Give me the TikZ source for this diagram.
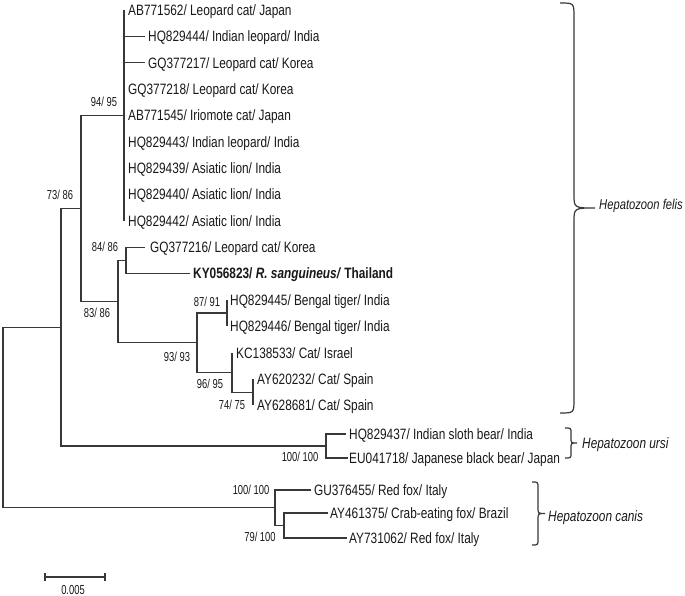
\documentclass[tikz,border=0pt]{standalone}
\usepackage{fontspec}
\setmainfont{Liberation Sans}[FakeStretch=0.79]
\newfontfamily\bsfont{Liberation Sans}[FakeStretch=0.72]
\newcommand\cladebrace[6]{% #1 tip x, #2 top, #3 bottom, #4 spine offset, #5 point offset, #6 radius
  \pgfmathsetmacro\cbmid{(#2+#3)/2}%
  \draw[br] (#1,#2) .. controls ({#1+#4},#2) .. ({#1+#4},{#2+#6})
    -- ({#1+#4},{\cbmid-#6}) .. controls ({#1+#4},\cbmid) .. ({#1+#5},\cbmid)
    .. controls ({#1+#4},\cbmid) .. ({#1+#4},{\cbmid+#6})
    -- ({#1+#4},{#3-#6}) .. controls ({#1+#4},#3) .. (#1,#3);
}
\tikzset{
  br/.style={line width=1.2pt, draw=black!78},
  leaf/.style={anchor=base west, inner sep=0pt, text=black!90, font=\fontsize{15}{17}\selectfont},
  bs/.style={anchor=base, inner sep=0pt, text=black!90, font=\bsfont\fontsize{13}{15}\selectfont},
  cladename/.style={anchor=base west, inner sep=0pt, text=black!90, font=\fontsize{15}{17}\selectfont\itshape},
}
\begin{document}
\begin{tikzpicture}[x=1pt,y=-1pt]
\useasboundingbox (0,0) rectangle (685,596);
\fill[white] (0,0) rectangle (685,596);
% internal nodes
\coordinate (root) at (3,417.5);
\coordinate (c7386) at (61,327.2);
\coordinate (felis) at (81,208.5);
\coordinate (c9495) at (124,115.4);
\coordinate (c8386) at (118,301.5);
\coordinate (c8486) at (126,260.3);
\coordinate (c9393) at (197,342.7);
\coordinate (c8791) at (227,313);
\coordinate (c9695) at (232,372.3);
\coordinate (c7475) at (253,392.1);
\coordinate (ursi) at (326,446);
\coordinate (canis) at (275,507.8);
\coordinate (c79100) at (284,525.5);
% leaf tips
\coordinate (t1) at (124,10);
\coordinate (t2) at (145,36.4);
\coordinate (t3) at (145,62.7);
\coordinate (t4) at (124,89.1);
\coordinate (t5) at (124,115.4);
\coordinate (t6) at (124,141.8);
\coordinate (t7) at (124,168.1);
\coordinate (t8) at (124,194.5);
\coordinate (t9) at (124,220.8);
\coordinate (t10) at (145,247.2);
\coordinate (t11) at (190,273.5);
\coordinate (t12) at (227,299.9);
\coordinate (t13) at (227,326.2);
\coordinate (t14) at (232,352.6);
\coordinate (t15) at (253,378.9);
\coordinate (t16) at (253,405.3);
\coordinate (t17) at (346,434);
\coordinate (t18) at (348,458);
\coordinate (t19) at (311,490);
\coordinate (t20) at (328,513);
\coordinate (t21) at (347,538);
% branches
\draw[br] (c7386) -| (root) |- (canis);
\draw[br] (felis) -| (c7386) |- (ursi);
\draw[br] (c9495) -| (felis) |- (c8386);
\draw[br] (t1) -- (t9);
\draw[br] (c9495 |- t2) -- (t2);
\draw[br] (c9495 |- t3) -- (t3);
\draw[br] (c8486) -| (c8386) |- (c9393);
\draw[br] (t10) -| (c8486) |- (t11);
\draw[br] (c8791) -| (c9393) |- (c9695);
\draw[br] (t12) -- (t13);
\draw[br] (t14) -- (c9695) |- (c7475);
\draw[br] (t15) -- (t16);
\draw[br] (t17) -| (ursi) |- (t18);
\draw[br] (t19) -| (canis) |- (c79100);
\draw[br] (t20) -| (c79100) |- (t21);
% leaf labels
\node[leaf] (l1) at (128,15.4) {AB771562/ Leopard cat/ Japan};
\node[leaf] (l2) at (148,41.8) {HQ829444/ Indian leopard/ India};
\node[leaf] (l3) at (148,68.1) {GQ377217/ Leopard cat/ Korea};
\node[leaf] (l4) at (128,94.5) {GQ377218/ Leopard cat/ Korea};
\node[leaf] (l5) at (128,120.8) {AB771545/ Iriomote cat/ Japan};
\node[leaf] (l6) at (128,147.2) {HQ829443/ Indian leopard/ India};
\node[leaf] (l7) at (128,173.5) {HQ829439/ Asiatic lion/ India};
\node[leaf] (l8) at (128,199.9) {HQ829440/ Asiatic lion/ India};
\node[leaf] (l9) at (128,226.2) {HQ829442/ Asiatic lion/ India};
\node[leaf] (l10) at (150,252.6) {GQ377216/ Leopard cat/ Korea};
\node[leaf] (l11) at (193,278.9) {\bfseries KY056823/ \textit{R. sanguineus/} Thailand};
\node[leaf] (l12) at (230,305.3) {HQ829445/ Bengal tiger/ India};
\node[leaf] (l13) at (230,331.6) {HQ829446/ Bengal tiger/ India};
\node[leaf] (l14) at (236,358) {KC138533/ Cat/ Israel};
\node[leaf] (l15) at (257,384.3) {AY620232/ Cat/ Spain};
\node[leaf] (l16) at (257,410.7) {AY628681/ Cat/ Spain};
\node[leaf] (l17) at (349,439.4) {HQ829437/ Indian sloth bear/ India};
\node[leaf] (l18) at (349,463.4) {EU041718/ Japanese black bear/ Japan};
\node[leaf] (l19) at (314,495.4) {GU376455/ Red fox/ Italy};
\node[leaf] (l20) at (330,518.4) {AY461375/ Crab-eating fox/ Brazil};
\node[leaf] (l21) at (349,543.4) {AY731062/ Red fox/ Italy};
% bootstrap values
\node[bs] (b9495) at (104,106.6) {94/ 95};
\node[bs] (b7386) at (60,199.6) {73/ 86};
\node[bs] (b8486) at (105,251.6) {84/ 86};
\node[bs] (b8386) at (97,317.6) {83/ 86};
\node[bs] (b8791) at (207,306.6) {87/ 91};
\node[bs] (b9393) at (177,361.6) {93/ 93};
\node[bs] (b9695) at (210,388.6) {96/ 95};
\node[bs] (b7475) at (232,409.6) {74/ 75};
\node[bs] (bursi) at (300,461.6) {100/ 100};
\node[bs] (bcanis) at (251,494.6) {100/ 100};
\node[bs] (b79100) at (260,541.6) {79/ 100};
% clade braces and names
\cladebrace{560}{3}{413}{14}{35}{14}
\cladebrace{565}{428}{458}{6}{12}{5}
\cladebrace{532}{482}{545}{6}{13}{6}
\node[cladename, font=\fontsize{14.2}{16}\selectfont\itshape] (nfelis) at (599,209) {Hepatozoon felis};
\node[cladename] (nursi) at (582,448.5) {Hepatozoon ursi};
\node[cladename] (ncanis) at (548,521.5) {Hepatozoon canis};
% scale bar
\coordinate (sb1) at (45,577);
\coordinate (sb2) at (105,577);
\draw[br] (sb1) -- (sb2);
\draw[br] ([yshift=-4pt]sb1) -- ([yshift=4pt]sb1);
\draw[br] ([yshift=-4pt]sb2) -- ([yshift=4pt]sb2);
\node[bs] (sblabel) at (73,594) {0.005};
\end{tikzpicture}
\end{document}
